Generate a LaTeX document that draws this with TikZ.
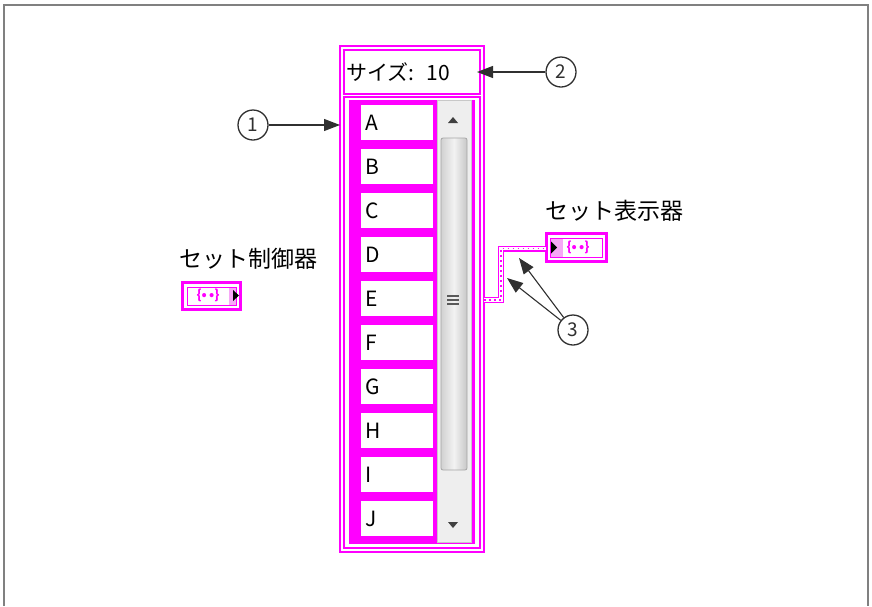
\documentclass[tikz,border=0pt]{standalone}
\usepackage{fontspec}
\setmainfont{Noto Sans CJK JP}
\usetikzlibrary{arrows.meta}
\definecolor{mag}{HTML}{FF00FF}
\definecolor{pinkfill}{HTML}{F7A8F7}
\definecolor{framegray}{HTML}{808080}
\definecolor{sbbg}{HTML}{EEEEEE}
\definecolor{sbline}{HTML}{C8C8C8}
\definecolor{callgray}{HTML}{303030}
\tikzset{
  magline/.style={draw=mag, line width=1.4pt},
  itembox/.style={fill=white, draw=none, minimum width=72pt, minimum height=35pt, inner sep=0pt, anchor=north west},
  itemtext/.style={anchor=west, inner sep=0pt, font=\fontsize{21pt}{24pt}\selectfont, text=black},
  callout/.style={circle, draw=callgray, line width=1.3pt, minimum size=30pt, inner sep=0pt, font=\fontsize{19pt}{22pt}\selectfont, text=callgray},
  callarrow/.style={draw=callgray, line width=1.1pt, -{Triangle[length=16pt,width=12pt]}},
  labeltext/.style={inner sep=0pt, font=\fontsize{23pt}{26pt}\selectfont, text=black},
  settext/.style={inner sep=0pt, font=\fontsize{13pt}{14pt}\selectfont\bfseries, text=mag},
}
\begin{document}
\begin{tikzpicture}[x=1pt,y=-1pt]
\useasboundingbox (0,0) rectangle (872,606);
% frame
\draw[framegray, line width=1.5pt] (4,606) -- (4,5) -- (868,5) -- (868,606);

% list control outer frames
\draw[magline] (340,46) rectangle (484,552);
\draw[magline] (344,50) rectangle (480,94);
\draw[magline] (344,97) rectangle (480,548);
\fill[mag] (349,100) rectangle (475,544);
\node[labeltext, font=\fontsize{21pt}{24pt}\selectfont, anchor=west] (size) at (346,72) {サイズ:\hspace{12pt}10};

% items
\foreach \l [count=\i from 0] in {A,B,C,D,E,F,G,H,I,J}{
  \node[itembox] (box\l) at (361,{105+44*\i}) {};
  \node[itemtext] (txt\l) at ([xshift=4pt]box\l.west) {\l};
}

% scrollbar
\draw[fill=sbbg, draw=sbline, line width=0.8pt] (437,100) rectangle (471,542);
\fill[black!75] (448,123) -- (458,123) -- (453,117) -- cycle;
\fill[black!75] (448,522) -- (458,522) -- (453,528) -- cycle;
\shade[left color=white!82!black, right color=white!78!black, middle color=white!95!black, draw=black!35, line width=0.8pt, rounded corners=2pt]
  (441,138) rectangle (467,470);
\foreach \yy in {296,300,304}{
  \draw[black!65, line width=1.4pt] (447,\yy) -- (459,\yy);
}

% set control (left)
\node[labeltext, anchor=west] (ctlLabel) at (179,259) {セット制御器};
\draw[mag, line width=3pt] (182.5,282.5) rectangle (240.5,309.5);
\fill[pinkfill] (229,287) rectangle (236,305);
\draw[mag, line width=1pt] (187,287) rectangle (236,305);
\fill[black] (233,290) -- (233,301) -- (239,295.5) -- cycle;
\node[settext] (ctlSym) at (208,295.5) {\{•\,•\}};

% set indicator (right)
\node[labeltext, anchor=west] (indLabel) at (545,211) {セット表示器};
\draw[mag, line width=3pt] (546.5,233.5) rectangle (606.5,261.5);
\fill[pinkfill] (550,238) rectangle (563,257);
\draw[mag, line width=1pt] (550,238) rectangle (602,257);
\fill[black] (551,241.5) -- (551,253.5) -- (557,247.5) -- cycle;
\node[settext] (indSym) at (578,247.5) {\{•\,•\}};

% set wire
\coordinate (wA) at (484,300);
\coordinate (wB) at (501,300);
\coordinate (wC) at (501,248.5);
\coordinate (wD) at (546,248.5);
\draw[mag, line width=6pt] (wA) -- (wB) -- (wC) -- (wD);
\draw[white, line width=3.6pt] (wA) -- (wB) -- (wC) -- (wD);
\draw[mag, line width=1.6pt, dash pattern=on 1.6pt off 3.4pt] (wA) -- (wB) -- (wC) -- (wD);

% callouts
\node[callout] (c1) at (253,125) {1};
\node[callout] (c2) at (561,72) {2};
\node[callout] (c3) at (573,330) {3};
\coordinate (t1) at (340,125);
\coordinate (t2) at (477,72);
\coordinate (t3a) at (519,258);
\coordinate (t3b) at (507,278);
\draw[callarrow] (c1) -- (t1);
\draw[callarrow] (c2) -- (t2);
\draw[callarrow] (c3) -- (t3a);
\draw[callarrow] (c3) -- (t3b);
\end{tikzpicture}
\end{document}
